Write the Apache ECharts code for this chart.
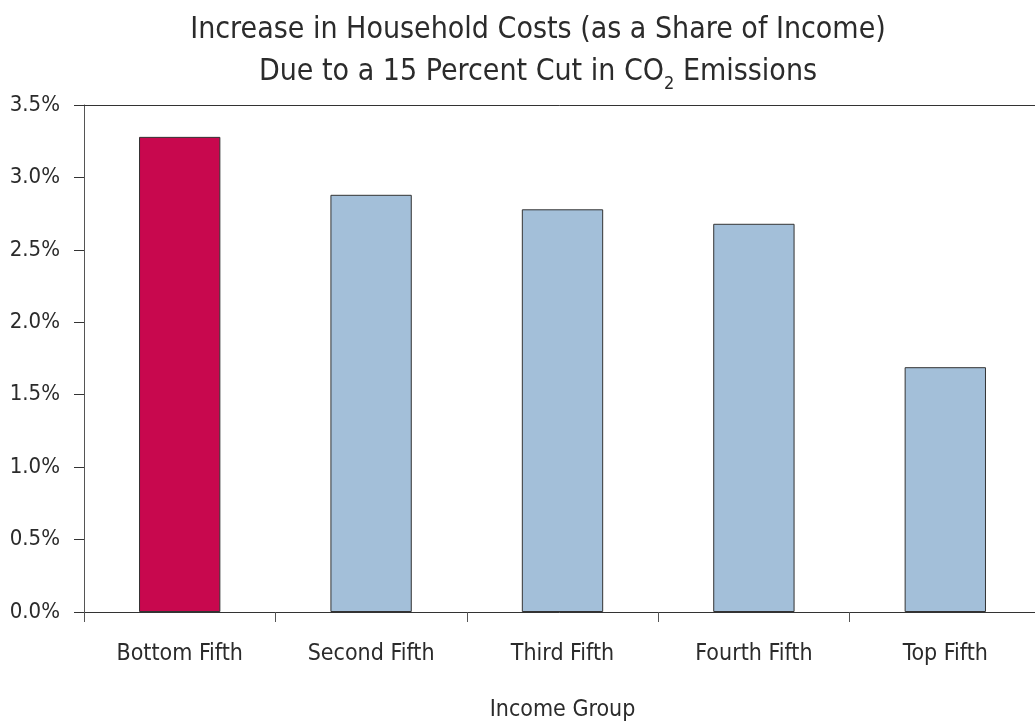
<!DOCTYPE html>
<html>
<head>
<meta charset="utf-8">
<script src="https://cdn.jsdelivr.net/npm/echarts@6/dist/echarts.min.js"></script>
<style>
  html, body { margin: 0; padding: 0; background: #fff; }
  #chart { width: 1035px; height: 723px; }
</style>
</head>
<body>
<div id="chart"></div>
<script>
// Income quintiles and their cost increase (percent of income)
const categories = ['Bottom Fifth', 'Second Fifth', 'Third Fifth', 'Fourth Fifth', 'Top Fifth'];
const costShare = [3.28, 2.88, 2.78, 2.68, 1.69];
const highlightIndex = 0;

const FONT = '"Liberation Sans Narrow", "DejaVu Sans Condensed", "Roboto", sans-serif';
const TEXT = '#2b2b2b';
const AXIS = '#333333';

const chart = echarts.init(document.getElementById('chart'), null, { renderer: 'canvas' });

chart.setOption({
  animation: false,
  backgroundColor: '#ffffff',
  title: {
    left: 533,
    textAlign: 'center',
    top: 4,
    text: '{a|Increase in Household Costs (as a Share of Income)}\n{a|Due to a 15 Percent Cut in CO}{sub|2}{a| Emissions}',
    textStyle: {
      fontWeight: 'normal',
      rich: {
        a: { fontFamily: FONT, fontSize: 30, fontWeight: 'normal', color: TEXT, lineHeight: 42 },
        sub: { fontFamily: FONT, fontSize: 18, fontWeight: 'normal', color: TEXT, lineHeight: 42, verticalAlign: 'bottom', padding: [16, 0, 0, 0] }
      }
    }
  },
  // the plot runs a little past the right edge of the page
  grid: { left: 84, width: 957, top: 105, bottom: 111, containLabel: false, outerBoundsMode: 'none' },
  xAxis: [
    {
      type: 'category',
      data: categories,
      position: 'bottom',
      axisLine: { show: true, lineStyle: { color: AXIS, width: 1 } },
      axisTick: { show: true, alignWithLabel: false, length: 10, lineStyle: { color: '#555555' } },
      axisLabel: { color: TEXT, fontFamily: FONT, fontSize: 23, margin: 31 },
      name: 'Income Group',
      nameLocation: 'middle',
      nameGap: 87,
      nameTextStyle: { color: TEXT, fontFamily: FONT, fontSize: 23 }
    },
    {
      type: 'category',
      data: categories,
      position: 'top',
      axisLine: { show: true, lineStyle: { color: AXIS, width: 1 } },
      axisTick: { show: false },
      axisLabel: { show: false }
    }
  ],
  yAxis: {
    type: 'value',
    min: 0,
    max: 3.5,
    interval: 0.5,
    axisLine: { show: true, lineStyle: { color: '#555555', width: 1 } },
    axisTick: { show: true, length: 10, lineStyle: { color: AXIS } },
    splitLine: { show: false },
    axisLabel: {
      color: TEXT, fontFamily: FONT, fontSize: 22, margin: 24,
      formatter: v => v.toFixed(1) + '%'
    }
  },
  series: [{
    type: 'bar',
    xAxisIndex: 0,
    barWidth: '42.5%',
    data: costShare.map((v, i) => ({
      value: v,
      itemStyle: {
        color: i === highlightIndex ? '#c8084e' : '#a3bfd9',
        borderColor: '#333333',
        borderWidth: 1
      }
    }))
  }]
});
</script>
</body>
</html>
